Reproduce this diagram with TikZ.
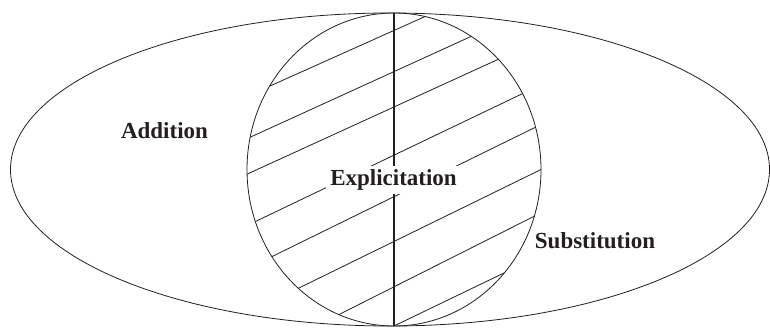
\documentclass[tikz,border=0pt]{standalone}
\usepackage{fontspec}
\setmainfont{Liberation Serif}
\usetikzlibrary{calc}
\definecolor{ink}{HTML}{231F20}
\tikzset{
  thinline/.style={draw=ink, line width=0.8pt},
  axisline/.style={draw=ink, line width=1.4pt},
  label/.style={font=\bfseries\fontsize{23}{27}\selectfont, text=ink, anchor=base, inner sep=0pt},
  boxlabel/.style={label, fill=white, inner sep=4pt}
}
\begin{document}
\begin{tikzpicture}[x=1pt, y=-1pt]
\useasboundingbox (0,0) rectangle (770,327);
\coordinate (oc) at (390,169.5);
\coordinate (cc) at (394,169.5);
\coordinate (top) at (394,13);
\coordinate (bot) at (394,326);
% hatching
\begin{scope}
\clip (cc) ellipse [x radius=147pt, y radius=156.5pt];
\foreach \a/\b in {{270,86}/{424,17},{250,137.3}/{468.3,37.7},{246.7,174.3}/{496.7,60},{255,221.7}/{521.7,94},{271.7,256.7}/{533.3,128.3},{298.3,288.3}/{540,170},{340,314}/{533.3,216.7},{394,326}/{503.3,273.3}}{
  \draw[thinline] ($(\a)!-0.2!(\b)$) -- ($(\b)!-0.2!(\a)$);
}
\end{scope}
\draw[axisline] (top) -- (bot);
\node[boxlabel] (expl) at (393.5,185.5) {Explicitation};
\draw[thinline] (cc) ellipse [x radius=147pt, y radius=156.5pt];
\draw[thinline] (oc) ellipse [x radius=379.5pt, y radius=156.5pt];
\node[label] (add) at (164.5,138) {Addition};
\node[label] (sub) at (595,248) {Substitution};
\end{tikzpicture}
\end{document}
